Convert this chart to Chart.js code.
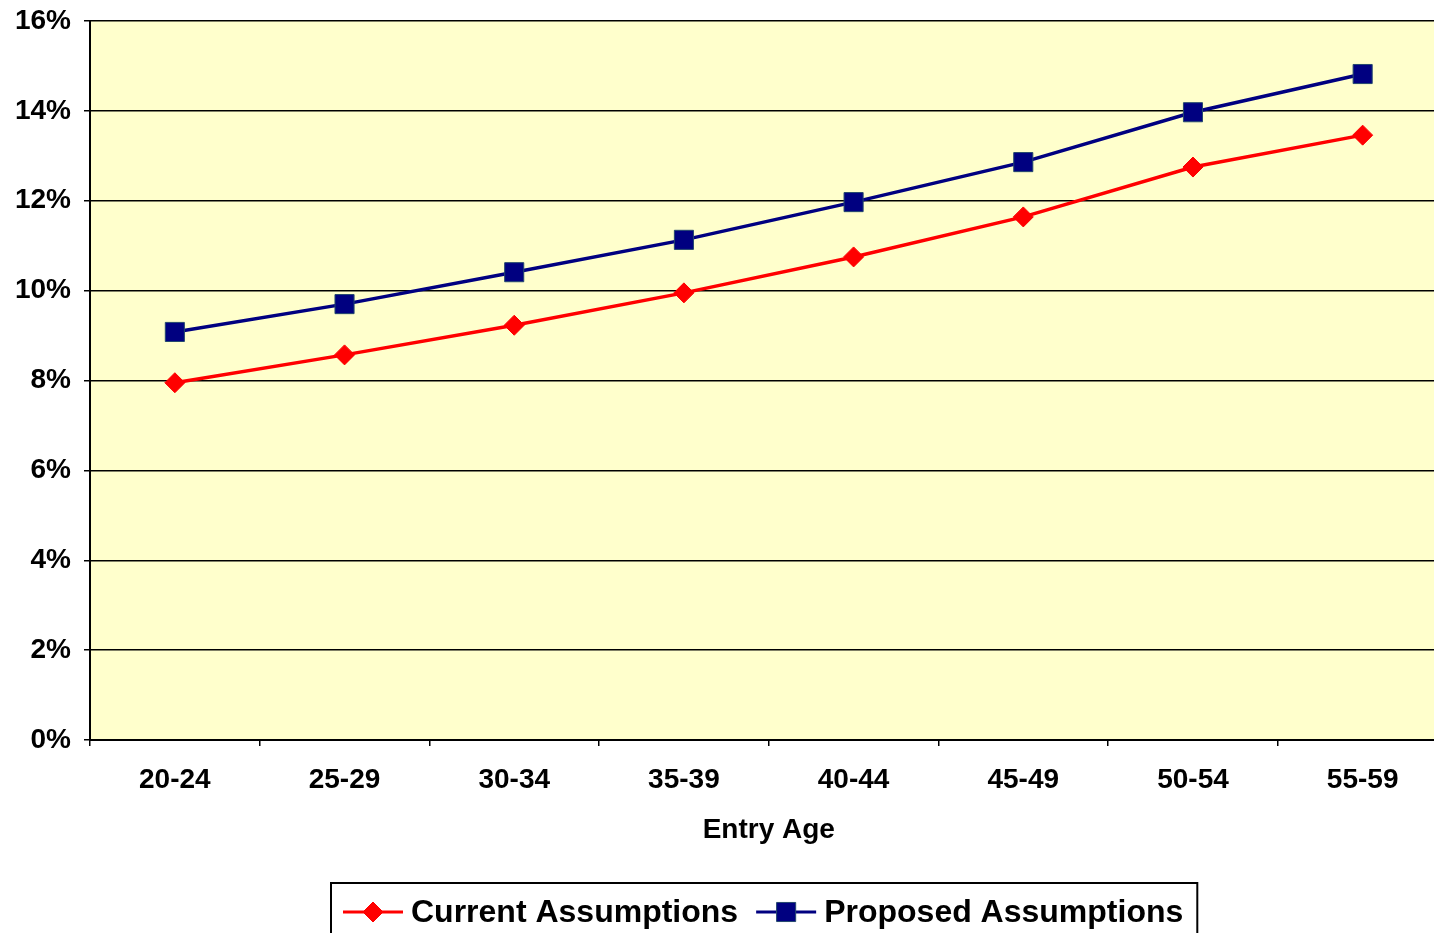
<!DOCTYPE html>
<html>
<head>
<meta charset="utf-8">
<title>Entry Age</title>
<script src="https://cdn.jsdelivr.net/npm/chart.js@4/dist/chart.umd.min.js"></script>
<style>
  html, body { margin: 0; padding: 0; background: #ffffff; overflow: hidden; }
  #wrap { width: 1462px; height: 933px; }
</style>
</head>
<body>
<div id="wrap"><canvas id="chart" width="1462" height="933"></canvas></div>
<script>
const categories = ['20-24', '25-29', '30-34', '35-39', '40-44', '45-49', '50-54', '55-59'];
const currentAssumptions = [7.95, 8.57, 9.23, 9.95, 10.75, 11.64, 12.75, 13.46];
const proposedAssumptions = [9.08, 9.70, 10.41, 11.13, 11.97, 12.86, 13.97, 14.82];
const yTicks = [0, 2, 4, 6, 8, 10, 12, 14, 16];
const seriesNames = ['Current Assumptions', 'Proposed Assumptions'];
const xTitle = 'Entry Age';

const FONT = '"Liberation Sans", Arial, Helvetica, sans-serif';

// Pale yellow fill behind the plot area
const plotBackground = {
  id: 'plotBackground',
  beforeDraw(chart) {
    const { ctx, chartArea: a } = chart;
    ctx.save();
    ctx.fillStyle = '#FFFFCC';
    ctx.fillRect(a.left, a.top, a.right - a.left, a.bottom - a.top);
    ctx.restore();
  }
};

// Boxed legend below the axis title: line sample with marker, then label
const boxedLegend = {
  id: 'boxedLegend',
  afterDraw(chart) {
    const { ctx } = chart;
    const sets = chart.data.datasets;
    ctx.save();
    ctx.font = 'bold 32px ' + FONT;
    const sample = 60, gapText = 8, gapItem = 18, padL = 12, padR = 14;
    const widths = sets.map(d => ctx.measureText(d.label).width);
    let total = padL + padR;
    widths.forEach((w, i) => { total += sample + gapText + w + (i ? gapItem : 0); });
    const cx = (chart.chartArea.left + chart.chartArea.right) / 2 - 5;
    const left = Math.round(cx - total / 2);
    const top = 883;
    const midY = 912;
    ctx.strokeStyle = '#000000';
    ctx.lineWidth = 2;
    ctx.strokeRect(left, top, total, 80);
    let x = left + padL;
    sets.forEach((d, i) => {
      if (i) x += gapItem;
      ctx.strokeStyle = d.borderColor;
      ctx.lineWidth = 3;
      ctx.beginPath();
      ctx.moveTo(x, midY);
      ctx.lineTo(x + sample, midY);
      ctx.stroke();
      ctx.fillStyle = d.pointBackgroundColor;
      ctx.strokeStyle = d.pointBorderColor;
      ctx.lineWidth = d.pointBorderWidth;
      Chart.helpers.drawPoint(ctx, { pointStyle: d.pointStyle, rotation: 0, borderWidth: d.pointBorderWidth, radius: d.pointRadius }, x + sample / 2, midY);
      x += sample + gapText;
      ctx.fillStyle = '#000000';
      ctx.textBaseline = 'middle';
      ctx.textAlign = 'left';
      ctx.fillText(d.label, x, midY + 1);
      x += widths[i];
    });
    ctx.restore();
  }
};

new Chart(document.getElementById('chart'), {
  type: 'line',
  data: {
    labels: categories,
    datasets: [
      {
        label: seriesNames[0],
        data: currentAssumptions,
        borderColor: '#FF0000',
        borderWidth: 3.5,
        pointStyle: 'rectRot',
        pointRadius: 10,
        pointHoverRadius: 10,
        pointBackgroundColor: '#FF0000',
        pointBorderColor: '#FF0000',
        pointBorderWidth: 1,
        tension: 0,
        order: 1
      },
      {
        label: seriesNames[1],
        data: proposedAssumptions,
        borderColor: '#000080',
        borderWidth: 3.5,
        pointStyle: 'rect',
        pointRadius: 13.5,
        pointHoverRadius: 13.5,
        pointBackgroundColor: '#000080',
        pointBorderColor: '#24486E',
        pointBorderWidth: 1,
        tension: 0,
        order: 0
      }
    ]
  },
  options: {
    responsive: false,
    animation: false,
    events: [],
    layout: { padding: { left: 0, right: 2, top: 21, bottom: 0 } },
    plugins: {
      legend: { display: false },
      tooltip: { enabled: false }
    },
    scales: {
      x: {
        type: 'category',
        offset: true,
        grid: {
          offset: true,
          drawOnChartArea: false,
          drawTicks: true,
          tickLength: 6,
          color: '#000000',
          lineWidth: 1.5
        },
        border: { display: true, color: '#000000', width: 2 },
        ticks: {
          color: '#000000',
          font: { family: FONT, size: 28, weight: 'bold' },
          padding: 17,
          maxRotation: 0,
          autoSkip: false
        },
        title: {
          display: true,
          text: xTitle,
          color: '#000000',
          font: { family: FONT, size: 28, weight: 'bold' },
          padding: { top: 0, bottom: 86 }
        },
        afterFit(scale) {
          scale.height = 193;
          scale.paddingLeft = 0;
          scale.paddingRight = 0;
        }
      },
      y: {
        min: yTicks[0],
        max: yTicks[yTicks.length - 1],
        afterBuildTicks(scale) { scale.ticks = yTicks.map(v => ({ value: v })); },
        grid: {
          color: '#000000',
          lineWidth: 1.5,
          drawTicks: true,
          tickLength: 6
        },
        border: { display: true, color: '#000000', width: 2 },
        ticks: {
          color: '#000000',
          font: { family: FONT, size: 28, weight: 'bold' },
          padding: 13,
          callback: v => v + '%'
        },
        afterFit(scale) {
          scale.width = 90;
          scale.paddingTop = 0;
          scale.paddingBottom = 0;
        }
      }
    }
  },
  plugins: [plotBackground, boxedLegend]
});
</script>
</body>
</html>
